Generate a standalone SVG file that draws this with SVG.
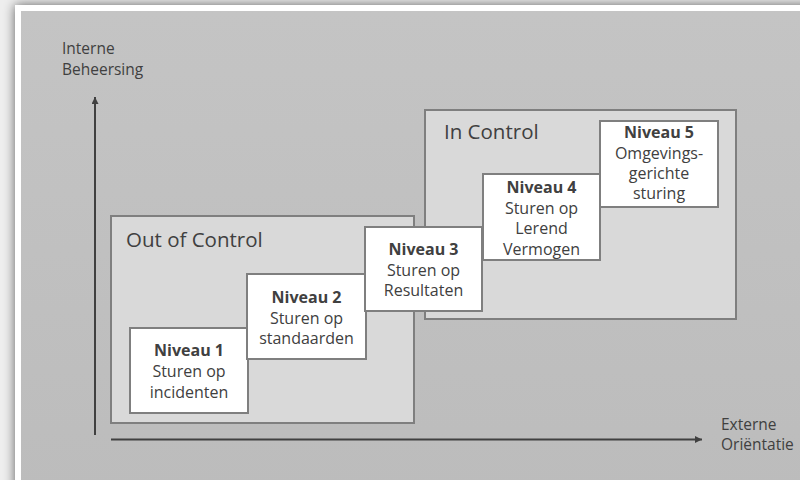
<svg xmlns="http://www.w3.org/2000/svg" width="800" height="480" viewBox="0 0 800 480">
<defs>
<filter id="sh" x="-10%" y="-10%" width="120%" height="120%"><feGaussianBlur stdDeviation="6"/></filter>
<linearGradient id="bg" x1="0" y1="0" x2="0" y2="1"><stop offset="0" stop-color="#c4c4c4"/><stop offset="1" stop-color="#bcbcbc"/></linearGradient>
<marker id="ah" viewBox="0 0 10 10" refX="10" refY="5" markerWidth="8" markerHeight="7" markerUnits="userSpaceOnUse" orient="auto"><path d="M0,0 L10,5 L0,10 Z" fill="#404040"/></marker>
<style>
.t{font-family:"Open Sans","DejaVu Sans",sans-serif;fill:#404040}
.bx{font-size:16px;text-anchor:middle}
.b{font-weight:bold}
.ax{font-size:15.5px}
.cl{font-size:20.5px}
.lvl{fill:#ffffff;stroke:#7f7f7f;stroke-width:2}
.grp{fill:#d9d9d9;stroke:#7f7f7f;stroke-width:2}
.axis{stroke:#404040;stroke-width:2;fill:none}
</style>
</defs>
<rect x="0" y="0" width="800" height="480" fill="#eeeeee"/>
<rect x="15" y="5" width="800" height="490" fill="#000" opacity="0.6" filter="url(#sh)"/>
<rect x="15" y="5" width="800" height="490" fill="#ffffff"/>
<rect x="21" y="11" width="790" height="480" fill="url(#bg)"/>

<g id="connectors">
<line class="axis" x1="95" y1="435" x2="95" y2="97" marker-end="url(#ah)"/>
<line class="axis" x1="111" y1="439.5" x2="702" y2="439.5" marker-end="url(#ah)"/>
</g>

<g id="label-y"><text class="t ax" x="62" y="54">Interne</text><text class="t ax" x="62" y="75">Beheersing</text></g>
<g id="label-x"><text class="t ax" x="721" y="430">Externe</text><text class="t ax" x="721" y="450">Oriëntatie</text></g>

<g id="out-of-control"><rect class="grp" x="111" y="216" width="303" height="207"/><text class="t cl" x="126" y="247">Out of Control</text></g>
<g id="in-control"><rect class="grp" x="425" y="110" width="311" height="209"/><text class="t cl" x="444" y="139">In Control</text></g>

<g id="niveau1"><rect class="lvl" x="130" y="328" width="118" height="85"/>
<text class="t bx b" x="189" y="356">Niveau 1</text><text class="t bx" x="189" y="377">Sturen op</text><text class="t bx" x="189" y="398">incidenten</text></g>
<g id="niveau2"><rect class="lvl" x="247" y="274" width="119" height="85"/>
<text class="t bx b" x="306.5" y="303">Niveau 2</text><text class="t bx" x="306.5" y="324">Sturen op</text><text class="t bx" x="306.5" y="344">standaarden</text></g>
<g id="niveau3"><rect class="lvl" x="365" y="227" width="117" height="84"/>
<text class="t bx b" x="423.5" y="255">Niveau 3</text><text class="t bx" x="423.5" y="276">Sturen op</text><text class="t bx" x="423.5" y="296">Resultaten</text></g>
<g id="niveau4"><rect class="lvl" x="483" y="174" width="117" height="86"/>
<text class="t bx b" x="541.5" y="193">Niveau 4</text><text class="t bx" x="541.5" y="213.5">Sturen op</text><text class="t bx" x="541.5" y="234">Lerend</text><text class="t bx" x="541.5" y="254.5">Vermogen</text></g>
<g id="niveau5"><rect class="lvl" x="600" y="121" width="118" height="86"/>
<text class="t bx b" x="659" y="138">Niveau 5</text><text class="t bx" x="659" y="159">Omgevings-</text><text class="t bx" x="659" y="179">gerichte</text><text class="t bx" x="659" y="199">sturing</text></g>
</svg>
